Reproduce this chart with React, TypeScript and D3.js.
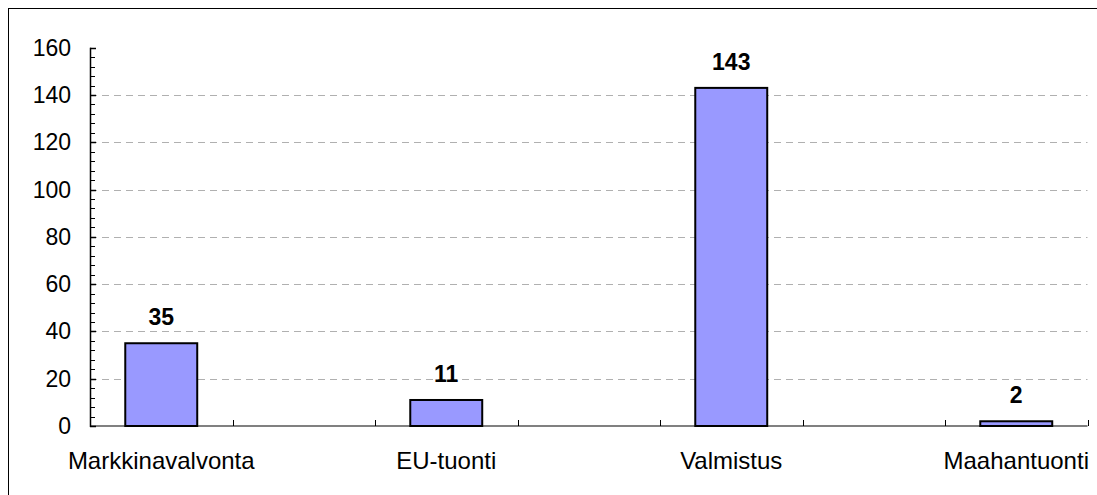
import React from "react";
import * as d3 from "d3";

const categories = ["Markkinavalvonta", "gap1", "EU-tuonti", "gap2", "Valmistus", "gap3", "Maahantuonti"];
const categoryLabels = ["Markkinavalvonta", "", "EU-tuonti", "", "Valmistus", "", "Maahantuonti"];
const values: (number | null)[] = [35, null, 11, null, 143, null, 2];
const yTicks = [0, 20, 40, 60, 80, 100, 120, 140, 160];
const yMinorTicks = d3.range(0, 161, 4);
const gridTicks = [20, 40, 60, 80, 100, 120, 140];

const W = 1097;
const H = 495;
const left = 90;
const right = 1087.5;
const top = 47.7;
const bottom = 426;
const font = "'Liberation Sans', Arial, sans-serif";

export default function App() {
  const x = d3
    .scaleBand<string>()
    .domain(categories)
    .range([left, right])
    .paddingInner(0.495)
    .paddingOuter(0.2475);
  const y = d3.scaleLinear().domain([0, 160]).range([bottom, top]);
  const step = x.step();
  const boundaries = d3.range(categories.length + 1).map((i) => left + i * step);

  return (
    <svg
      width={W}
      height={H}
      style={{ position: "absolute", left: 0, top: 0, overflow: "hidden", background: "#fff" }}
    >
      <rect x={8.5} y={8.5} width={1200} height={600} fill="#fff" stroke="#000" strokeWidth={1} />
      {gridTicks.map((t) => (
        <line
          key={"g" + t}
          x1={left}
          x2={right}
          y1={Math.round(y(t)) + 0.5}
          y2={Math.round(y(t)) + 0.5}
          stroke="#b0b0b0"
          strokeWidth={1}
          strokeDasharray="7,5"
        />
      ))}
      {/* x axis */}
      <line x1={left} x2={right} y1={bottom} y2={bottom} stroke="#808080" strokeWidth={2} />
      {boundaries.slice(1).map((b, i) => (
        <line key={"xt" + i} x1={Math.round(b) + 0.5} x2={Math.round(b) + 0.5} y1={bottom} y2={bottom - 6} stroke="#000" strokeWidth={1} />
      ))}
      {/* bars */}
      {categories.map((c, i) => {
        const v = values[i];
        if (v == null) return null;
        const bx = x(c)!;
        const bw = x.bandwidth();
        return (
          <g key={c}>
            <rect x={bx} y={y(v)} width={bw} height={bottom - y(v)} fill="#9999FF" stroke="#000" strokeWidth={2} />
            <text
              x={bx + bw / 2}
              y={y(v) - 18}
              textAnchor="middle"
              fontFamily={font}
              fontWeight="bold"
              fontSize={23}
              fill="#000"
            >
              {v}
            </text>
          </g>
        );
      })}
      {/* y axis */}
      <line x1={left + 0.5} x2={left + 0.5} y1={top} y2={bottom + 1} stroke="#000" strokeWidth={1.5} />
      {yMinorTicks.map((t) => (
        <line key={"m" + t} x1={left} x2={left + 5} y1={Math.round(y(t)) + 0.5} y2={Math.round(y(t)) + 0.5} stroke="#000" strokeWidth={1} />
      ))}
      {yTicks.map((t) => (
        <g key={"yt" + t}>
          <line x1={left} x2={left + 6} y1={Math.round(y(t)) + 0.5} y2={Math.round(y(t)) + 0.5} stroke="#000" strokeWidth={1.5} />
          <text x={71} y={y(t)} dy="0.35em" textAnchor="end" fontFamily={font} fontSize={23} fill="#000">
            {t}
          </text>
        </g>
      ))}
      {/* category labels */}
      {categories.map((c, i) =>
        categoryLabels[i] ? (
          <text
            key={"cl" + c}
            x={x(c)! + x.bandwidth() / 2}
            y={469}
            textAnchor="middle"
            fontFamily={font}
            fontSize={24}
            fill="#000"
          >
            {categoryLabels[i]}
          </text>
        ) : null
      )}
    </svg>
  );
}
